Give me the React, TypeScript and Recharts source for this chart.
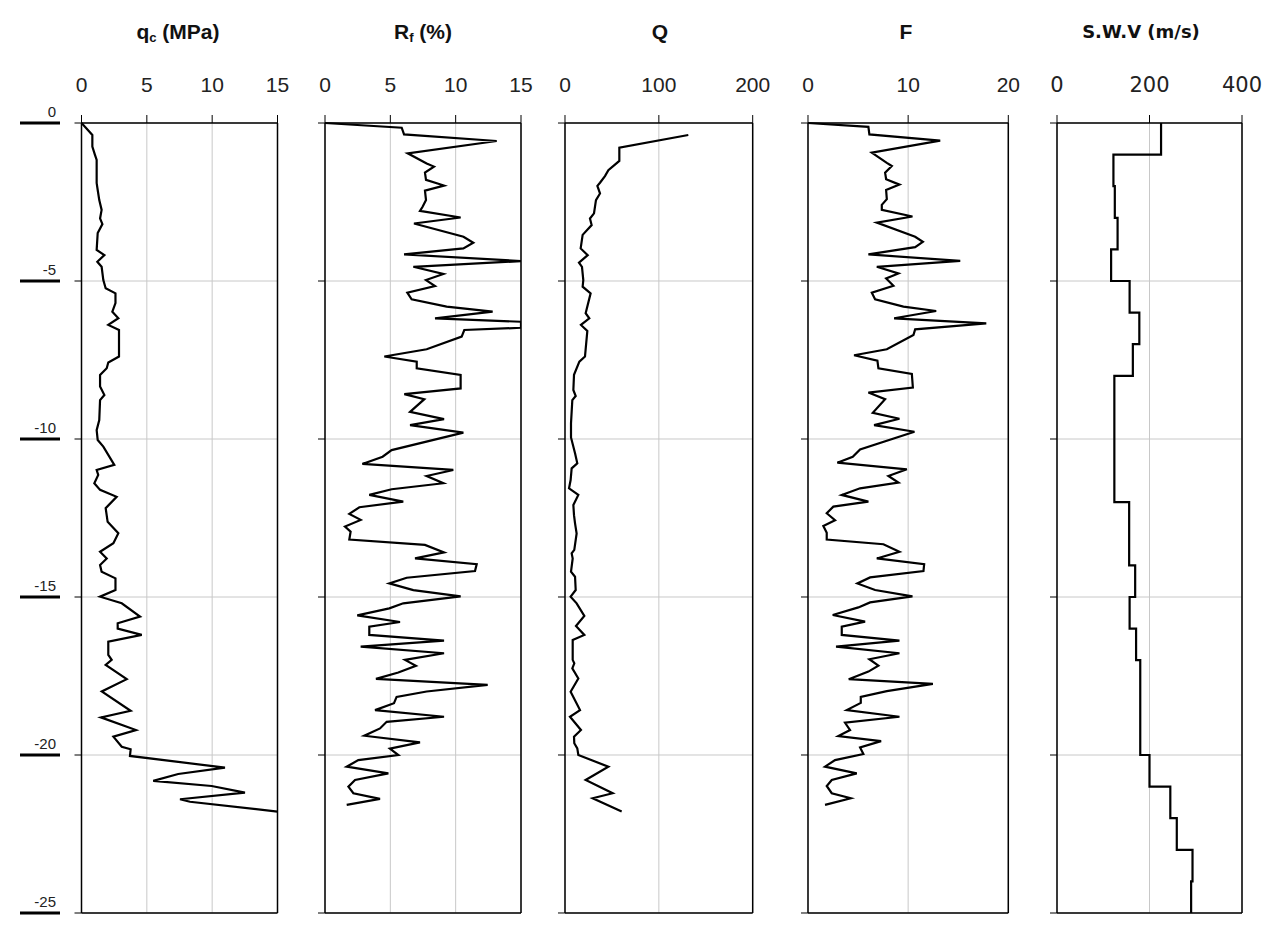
import React from "react";
import {
  LineChart,
  Line,
  XAxis,
  YAxis,
  CartesianGrid,
  ReferenceLine,
} from "recharts";

// [depth (m), value] pairs
const QC_PROFILE: [number, number][] = [
  [0, 0], [-0.38, 0.83], [-0.75, 0.83], [-1.01, 1.03], [-1.17, 1.16], [-1.9, 1.16],
  [-2.12, 1.24], [-2.44, 1.36], [-2.75, 1.54], [-3.02, 1.42], [-3.2, 1.6], [-3.48, 1.24],
  [-4.02, 1.16], [-4.18, 1.75], [-4.39, 1.21], [-4.55, 1.54], [-4.97, 1.67], [-5.23, 1.85],
  [-5.39, 2.6], [-5.7, 2.6], [-5.97, 2.36], [-6.18, 2.82], [-6.39, 2.05], [-6.55, 2.87],
  [-7.39, 2.87], [-7.58, 2.05], [-7.76, 1.93], [-7.97, 1.42], [-8.34, 1.42], [-8.61, 1.75],
  [-8.77, 1.42], [-9.4, 1.36], [-9.72, 1.16], [-10.03, 1.24], [-10.24, 1.67], [-10.82, 2.51],
  [-10.98, 1.16], [-11.14, 1.28], [-11.4, 0.98], [-11.61, 1.42], [-11.83, 2.69], [-12.19, 1.85],
  [-12.62, 2.0], [-12.98, 2.82], [-13.3, 2.44], [-13.57, 1.42], [-13.78, 1.93], [-13.99, 1.42],
  [-14.2, 1.54], [-14.41, 2.6], [-14.78, 2.6], [-14.99, 1.42], [-15.2, 3.08], [-15.62, 4.48],
  [-15.83, 2.77], [-16.0, 2.77], [-16.2, 4.61], [-16.41, 2.05], [-16.83, 2.05], [-16.99, 2.31],
  [-17.15, 1.85], [-17.6, 3.46], [-17.99, 1.55], [-18.6, 3.76], [-18.81, 1.49], [-19.21, 4.17],
  [-19.42, 2.44], [-19.74, 3.08], [-19.82, 3.76], [-20.03, 3.71], [-20.4, 10.98], [-20.6, 7.4],
  [-20.82, 5.49], [-20.98, 9.96], [-21.19, 12.51], [-21.4, 7.54], [-21.48, 8.3], [-21.79, 15.0],
];

const RF_PROFILE: [number, number][] = [
  [0, 0], [-0.15, 5.87], [-0.36, 6.05], [-0.57, 13.14], [-0.96, 6.33], [-1.28, 7.78],
  [-1.38, 8.34], [-1.57, 7.65], [-1.8, 7.73], [-1.98, 9.11], [-2.14, 7.65], [-2.44, 7.73],
  [-2.65, 7.47], [-2.78, 7.27], [-2.99, 10.38], [-3.18, 6.81], [-3.6, 10.6], [-3.79, 11.35],
  [-3.97, 10.59], [-4.16, 6.05], [-4.37, 15.0], [-4.55, 6.76], [-4.78, 9.06], [-4.97, 7.73],
  [-5.16, 8.42], [-5.37, 6.3], [-5.58, 6.63], [-5.81, 9.31], [-5.97, 12.83], [-6.18, 8.42],
  [-6.29, 15.0], [-6.48, 15.0], [-6.55, 10.66], [-6.76, 10.46], [-7.16, 7.78], [-7.39, 4.54],
  [-7.55, 7.02], [-7.76, 7.02], [-7.97, 10.38], [-8.4, 10.38], [-8.58, 6.07], [-8.74, 7.6],
  [-9.14, 6.51], [-9.37, 9.11], [-9.56, 6.51], [-9.8, 10.59], [-10.35, 5.1], [-10.56, 4.41],
  [-10.79, 2.86], [-10.98, 9.82], [-11.17, 7.78], [-11.4, 9.06], [-11.59, 5.1], [-11.77, 3.39],
  [-11.98, 5.99], [-12.16, 2.63], [-12.37, 1.86], [-12.56, 2.73], [-12.77, 1.53], [-12.93, 1.96],
  [-13.18, 1.86], [-13.35, 7.65], [-13.59, 9.11], [-13.78, 6.89], [-13.96, 11.61], [-14.18, 11.48],
  [-14.39, 6.25], [-14.57, 4.92], [-14.78, 6.76], [-14.98, 10.38], [-15.2, 5.99], [-15.36, 4.92],
  [-15.58, 2.47], [-15.79, 5.74], [-15.94, 3.39], [-16.2, 3.39], [-16.38, 9.11], [-16.57, 2.73],
  [-16.78, 9.11], [-16.99, 6.12], [-17.18, 6.96], [-17.39, 5.61], [-17.59, 3.9], [-17.78, 12.45],
  [-17.99, 7.78], [-18.16, 5.48], [-18.36, 5.28], [-18.58, 3.83], [-18.79, 9.11], [-18.95, 4.72],
  [-19.16, 4.21], [-19.39, 3.01], [-19.6, 7.27], [-19.8, 4.97], [-20.0, 5.61], [-20.16, 2.55],
  [-20.37, 1.66], [-20.58, 4.85], [-20.79, 2.3], [-21.0, 1.79], [-21.21, 2.17], [-21.39, 4.21],
  [-21.58, 1.66],
];

const Q_PROFILE: [number, number][] = [
  [-0.38, 131.4], [-0.78, 57.9], [-1.2, 57.9], [-1.49, 46.2], [-1.68, 42.6], [-1.89, 37.3],
  [-1.99, 34.5], [-2.23, 37.3], [-2.44, 33.0], [-2.86, 30.9], [-3.02, 26.6], [-3.23, 28.4],
  [-3.54, 18.8], [-3.97, 16.7], [-4.18, 24.2], [-4.42, 14.9], [-4.55, 18.1], [-4.97, 19.5],
  [-5.18, 18.8], [-5.39, 27.3], [-6.02, 22.0], [-6.18, 25.9], [-6.39, 17.0], [-6.58, 23.8],
  [-7.39, 21.3], [-7.55, 15.3], [-7.97, 9.6], [-8.45, 8.9], [-8.64, 11.4], [-8.77, 7.8],
  [-9.5, 6.4], [-9.95, 6.4], [-10.45, 10.7], [-10.77, 13.1], [-10.93, 7.1], [-11.3, 6.0],
  [-11.56, 4.3], [-11.77, 14.2], [-12.09, 8.9], [-12.41, 9.6], [-12.67, 10.7], [-12.99, 12.4],
  [-13.51, 9.9], [-13.62, 7.1], [-13.78, 8.2], [-14.2, 6.4], [-14.36, 10.7], [-14.78, 11.4],
  [-14.99, 6.0], [-15.2, 12.4], [-15.6, 20.6], [-15.92, 11.7], [-16.2, 20.6], [-16.36, 8.2],
  [-16.99, 8.2], [-17.1, 9.9], [-17.26, 7.8], [-17.58, 14.2], [-18.0, 6.0], [-18.58, 16.0],
  [-18.79, 5.3], [-19.21, 17.0], [-19.42, 9.6], [-19.63, 9.9], [-19.79, 13.1], [-20.0, 14.2],
  [-20.37, 46.2], [-20.79, 22.0], [-21.21, 50.8], [-21.37, 29.5], [-21.79, 60.4],
];

const F_PROFILE: [number, number][] = [
  [0, 0], [-0.12, 6.03], [-0.36, 6.13], [-0.56, 13.2], [-0.94, 6.37], [-1.26, 7.87],
  [-1.36, 8.37], [-1.57, 7.7], [-1.78, 7.8], [-1.95, 9.13], [-2.12, 7.8], [-2.41, 7.87],
  [-2.59, 7.37], [-2.75, 7.37], [-2.96, 10.43], [-3.15, 6.87], [-3.6, 10.7], [-3.76, 11.47],
  [-3.93, 10.7], [-4.16, 6.03], [-4.36, 15.2], [-4.55, 6.87], [-4.76, 9.03], [-4.92, 7.8],
  [-5.15, 8.53], [-5.37, 6.37], [-5.58, 6.7], [-5.81, 9.53], [-5.95, 12.8], [-6.18, 8.6],
  [-6.34, 17.8], [-6.53, 10.7], [-6.71, 10.53], [-7.16, 7.87], [-7.35, 4.6], [-7.52, 6.93],
  [-7.76, 7.03], [-7.94, 10.37], [-8.37, 10.47], [-8.53, 6.03], [-8.74, 7.7], [-9.17, 6.47],
  [-9.36, 9.13], [-9.56, 6.6], [-9.77, 10.63], [-10.33, 5.2], [-10.56, 4.47], [-10.75, 2.93],
  [-10.96, 9.87], [-11.17, 8.03], [-11.38, 9.03], [-11.56, 5.2], [-11.77, 3.37], [-11.98, 6.03],
  [-12.14, 2.53], [-12.35, 1.87], [-12.57, 2.7], [-12.75, 1.53], [-12.97, 1.87], [-13.18, 1.87],
  [-13.33, 7.53], [-13.57, 9.13], [-13.78, 6.87], [-13.96, 11.6], [-14.18, 11.53], [-14.38, 6.2],
  [-14.57, 4.93], [-14.78, 6.7], [-14.98, 10.43], [-15.17, 6.2], [-15.33, 5.03], [-15.57, 2.47],
  [-15.78, 5.7], [-15.94, 3.37], [-16.2, 3.37], [-16.38, 9.13], [-16.57, 2.8], [-16.78, 9.13],
  [-16.97, 6.13], [-17.17, 7.03], [-17.36, 6.03], [-17.6, 4.07], [-17.75, 12.47], [-17.98, 7.87],
  [-18.16, 5.27], [-18.35, 5.27], [-18.58, 3.87], [-18.79, 9.13], [-18.98, 3.7], [-19.21, 4.2],
  [-19.4, 3.03], [-19.56, 7.3], [-19.76, 5.2], [-19.97, 5.53], [-20.16, 2.7], [-20.37, 1.7],
  [-20.58, 4.87], [-20.79, 2.37], [-20.98, 1.87], [-21.21, 2.37], [-21.37, 4.27], [-21.58, 1.7],
];

// shear wave velocity layers: [top depth, bottom depth, velocity]
const SWV_LAYERS: [number, number, number][] = [
  [0, -1, 225], [-1, -2, 122], [-2, -3, 125], [-3, -4, 131], [-4, -5, 117],
  [-5, -6, 157], [-6, -7, 178], [-7, -8, 164], [-8, -12, 124], [-12, -14, 156],
  [-14, -15, 169], [-15, -16, 157], [-16, -17, 171], [-17, -20, 180], [-20, -21, 200],
  [-21, -22, 245], [-22, -23, 259], [-23, -24, 293], [-24, -25, 290],
];

const DEPTH_TICKS = [0, -5, -10, -15, -20, -25];

const toRows = (pairs: [number, number][]) =>
  pairs.map(([depth, v]) => ({ depth, v }));

const swvRows = SWV_LAYERS.flatMap(([top, bottom, v]) => [
  { depth: top, v },
  { depth: bottom, v },
]);

const FONT = '"Liberation Sans", Arial, sans-serif';

const DepthTick = ({ y, payload }: any) => (
  <g>
    <line x1={20} x2={60} y1={y} y2={y} stroke="#000" strokeWidth={3} />
    <text x={56} y={y - 6} textAnchor="end" fontSize={15} fontFamily={FONT} fill="#222">
      {payload.value}
    </text>
  </g>
);

const EmptyTick = () => <g />;

type PanelProps = {
  rows: { depth: number; v: number }[];
  chartLeft: number;
  plotLeft: number;
  plotRight: number;
  xMax: number;
  xTicks: number[];
  depthLabels?: boolean;
  tickFont?: string;
};

const Panel = ({
  rows,
  chartLeft,
  plotLeft,
  plotRight,
  xMax,
  xTicks,
  depthLabels,
  tickFont = FONT,
}: PanelProps) => {
  const yW = plotLeft - chartLeft;
  return (
    <div style={{ position: "absolute", left: chartLeft, top: 0 }}>
      <LineChart
        layout="vertical"
        width={plotRight - chartLeft + 20}
        height={941}
        data={rows}
        margin={{ top: 83, right: 20, bottom: 28, left: 0 }}
      >
        <CartesianGrid stroke="#c8c8c8" strokeWidth={1} />
        <XAxis
          type="number"
          orientation="top"
          dataKey="v"
          domain={[0, xMax]}
          ticks={xTicks}
          allowDataOverflow
          height={40}
          tickSize={8}
          tickMargin={23}
          axisLine={{ stroke: "#000", strokeWidth: 1.5 }}
          tickLine={{ stroke: "#000" }}
          tick={{ fontSize: 21, fill: "#222", fontFamily: tickFont }}
        />
        <YAxis
          type="number"
          dataKey="depth"
          domain={[-25, 0]}
          ticks={DEPTH_TICKS}
          reversed
          width={yW}
          tickSize={7}
          axisLine={{ stroke: "#000", strokeWidth: 1.5 }}
          tickLine={{ stroke: "#000" }}
          tick={depthLabels ? DepthTick : EmptyTick}
        />
        <ReferenceLine x={xMax} stroke="#000" strokeWidth={1.5} />
        <ReferenceLine y={-25} stroke="#000" strokeWidth={1.5} />
        <Line
          dataKey="v"
          type="linear"
          stroke="#000"
          strokeWidth={2.2}
          dot={false}
          isAnimationActive={false}
        />
      </LineChart>
    </div>
  );
};

const titleStyle = (cx: number, font = FONT, size = 21): React.CSSProperties => ({
  position: "absolute",
  left: cx - 100,
  width: 200,
  top: 19,
  textAlign: "center",
  fontFamily: font,
  fontWeight: "bold",
  fontSize: size,
  lineHeight: "26px",
  color: "#111",
});

const sub: React.CSSProperties = { fontSize: "0.62em", verticalAlign: "-0.25em" };

export default function App() {
  return (
    <div
      style={{
        position: "absolute",
        left: 0,
        top: 0,
        width: 1273,
        height: 941,
        background: "#fff",
      }}
    >
      <div style={titleStyle(178)}>
        q<span style={sub}>c</span> (MPa)
      </div>
      <div style={titleStyle(423)}>
        R<span style={sub}>f</span> (%)
      </div>
      <div style={titleStyle(660)}>Q</div>
      <div style={titleStyle(906)}>F</div>
      <div style={titleStyle(1141, '"DejaVu Sans", Verdana, sans-serif', 18)}>S.W.V (m/s)</div>

      <Panel
        rows={toRows(QC_PROFILE)}
        chartLeft={0}
        plotLeft={81.5}
        plotRight={277.5}
        xMax={15}
        xTicks={[0, 5, 10, 15]}
        depthLabels
      />
      <Panel
        rows={toRows(RF_PROFILE)}
        chartLeft={305}
        plotLeft={325}
        plotRight={521}
        xMax={15}
        xTicks={[0, 5, 10, 15]}
      />
      <Panel
        rows={toRows(Q_PROFILE)}
        chartLeft={545}
        plotLeft={565}
        plotRight={752.7}
        xMax={200}
        xTicks={[0, 100, 200]}
      />
      <Panel
        rows={toRows(F_PROFILE)}
        chartLeft={788}
        plotLeft={808}
        plotRight={1008.3}
        xMax={20}
        xTicks={[0, 10, 20]}
      />
      <Panel
        rows={swvRows}
        chartLeft={1036.7}
        plotLeft={1056.7}
        plotRight={1241.7}
        xMax={400}
        xTicks={[0, 200, 400]}
        tickFont='"DejaVu Sans", Verdana, sans-serif'
      />
    </div>
  );
}
